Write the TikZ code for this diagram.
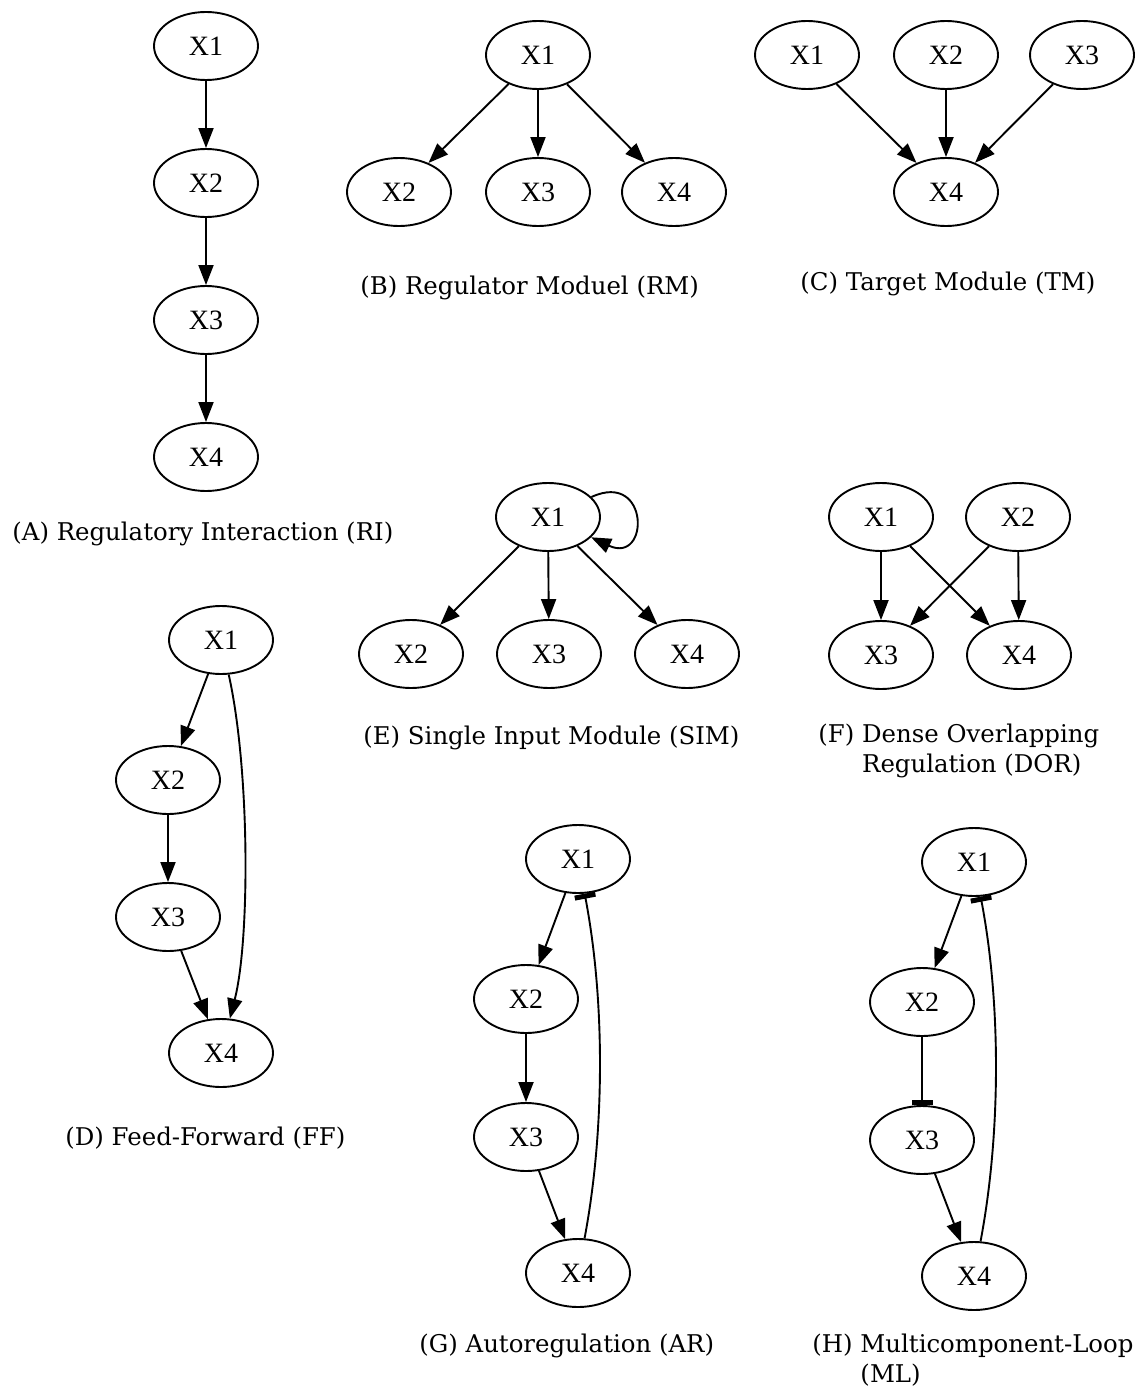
\documentclass[tikz,border=0pt]{standalone}
\usepackage{fontspec}
\setmainfont{Liberation Serif}
\newfontfamily\capfont{DejaVu Serif}
\usetikzlibrary{shapes.geometric,arrows.meta}
\begin{document}
\begin{tikzpicture}[x=0.5pt,y=-0.5pt,
  gn/.style={ellipse,draw,line width=0.95pt,minimum width=52pt,minimum height=34pt,inner sep=0pt,font=\fontsize{14}{16}\selectfont},
  ed/.style={line width=0.95pt,-{Triangle[length=10pt,width=7.5pt]}},
  inh/.style={line width=0.95pt,-{Bar[width=10.5pt,line width=2.5pt]}},
  captxt/.style={anchor=west,inner sep=0pt,font=\capfont\fontsize{12.2}{15}\selectfont,align=left}]
\path[use as bounding box,fill=white] (0,0) rectangle (1141,1386);

% (A)
\node[gn] (a1) at (206,46) {X1};
\node[gn] (a2) at (206,183) {X2};
\node[gn] (a3) at (206,320) {X3};
\node[gn] (a4) at (206,457) {X4};
\draw[ed] (a1) -- (a2);
\draw[ed] (a2) -- (a3);
\draw[ed] (a3) -- (a4);
\node[captxt] (capA) at (12,534) {(A) Regulatory Interaction (RI)};

% (B)
\node[gn] (b1) at (538,55) {X1};
\node[gn] (b2) at (399,192) {X2};
\node[gn] (b3) at (538,192) {X3};
\node[gn] (b4) at (674,192) {X4};
\draw[ed] (b1) -- (b2);
\draw[ed] (b1) -- (b3);
\draw[ed] (b1) -- (b4);
\node[captxt] (capB) at (360,288) {(B) Regulator Moduel (RM)};

% (C)
\node[gn] (c1) at (807,55) {X1};
\node[gn] (c2) at (946,55) {X2};
\node[gn] (c3) at (1082,55) {X3};
\node[gn] (c4) at (946,192) {X4};
\draw[ed] (c1) -- (c4);
\draw[ed] (c2) -- (c4);
\draw[ed] (c3) -- (c4);
\node[captxt] (capC) at (800,284) {(C) Target Module (TM)};

% (E)
\node[gn] (e1) at (548,517) {X1};
\node[gn] (e2) at (411,654) {X2};
\node[gn] (e3) at (549,654) {X3};
\node[gn] (e4) at (687,654) {X4};
\draw[ed] (e1) .. controls (650,470) and (650,565) .. (e1);
\draw[ed] (e1) -- (e2);
\draw[ed] (e1) -- (e3);
\draw[ed] (e1) -- (e4);
\node[captxt] (capE) at (363,738) {(E) Single Input Module (SIM)};

% (F)
\node[gn] (f1) at (881,517) {X1};
\node[gn] (f2) at (1018,517) {X2};
\node[gn] (f3) at (881,655) {X3};
\node[gn] (f4) at (1019,655) {X4};
\draw[ed] (f1) -- (f3);
\draw[ed] (f1) -- (f4);
\draw[ed] (f2) -- (f3);
\draw[ed] (f2) -- (f4);
\node[captxt] (capF) at (818,751) {(F) Dense Overlapping\\\phantom{(F)}\ Regulation (DOR)};

% (D)
\node[gn] (d1) at (221,640) {X1};
\node[gn] (d2) at (168,780) {X2};
\node[gn] (d3) at (168,917) {X3};
\node[gn] (d4) at (221,1053) {X4};
\draw[ed] (d1) -- (d2);
\draw[ed] (d2) -- (d3);
\draw[ed] (d3) -- (d4);
\draw[ed] (d1) .. controls (250,770) and (250,940) .. (d4);
\node[captxt] (capD) at (65,1138) {(D) Feed-Forward (FF)};

% (G)
\node[gn] (g1) at (578,859) {X1};
\node[gn] (g2) at (526,999) {X2};
\node[gn] (g3) at (526,1137) {X3};
\node[gn] (g4) at (578,1273) {X4};
\draw[ed] (g1) -- (g2);
\draw[ed] (g2) -- (g3);
\draw[ed] (g3) -- (g4);
\draw[inh] (g4) .. controls (605,1130) and (605,1000) .. (g1);
\node[captxt] (capG) at (419,1346) {(G) Autoregulation (AR)};

% (H)
\node[gn] (h1) at (974,862) {X1};
\node[gn] (h2) at (922,1002) {X2};
\node[gn] (h3) at (922,1140) {X3};
\node[gn] (h4) at (974,1276) {X4};
\draw[ed] (h1) -- (h2);
\draw[inh] (h2) -- (h3);
\draw[ed] (h3) -- (h4);
\draw[inh] (h4) .. controls (1001,1133) and (1001,1003) .. (h1);
\node[captxt] (capH) at (812,1360) {(H) Multicomponent-Loop\\\phantom{(H)}\ (ML)};
\end{tikzpicture}
\end{document}
